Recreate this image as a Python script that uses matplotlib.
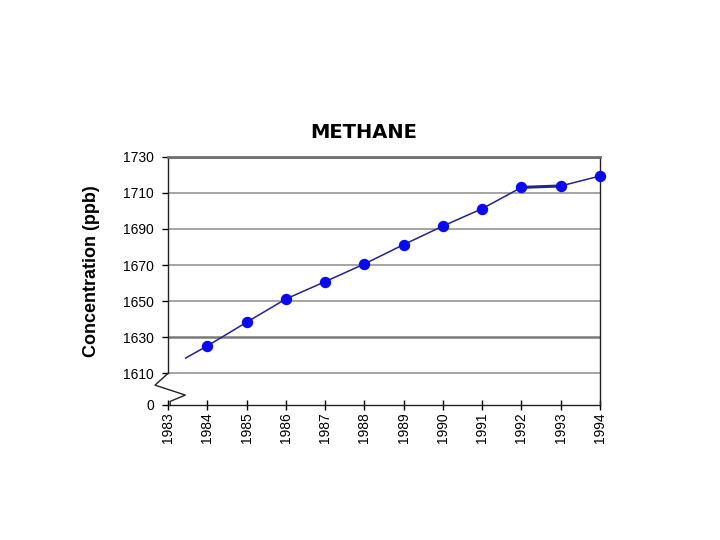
import matplotlib
matplotlib.use("Agg")
import matplotlib.pyplot as plt
from matplotlib.transforms import blended_transform_factory

# ---- data ----
years = [1984, 1985, 1986, 1987, 1988, 1989, 1990, 1991, 1992, 1993, 1994]
methane = [1625.2, 1638.3, 1651.2, 1660.8, 1670.6, 1681.3, 1691.6, 1701.2, 1713.0, 1713.8, 1719.3]
line_start_year = 1983.45
line_start_value = 1618.5
x_ticks = list(range(1983, 1995))
y_ticks = [1610, 1630, 1650, 1670, 1690, 1710, 1730]
zero_pos = 1592.5   # where the broken axis "0" sits
title = "METHANE"
ylabel = "Concentration (ppb)"

plt.rcParams['font.family'] = ['Liberation Sans', 'DejaVu Sans']

fig = plt.figure(figsize=(7.2, 5.4), dpi=100)
ax = fig.add_axes([168/720, 1 - 405/540, (600 - 168)/720, (405 - 156.7)/540])

# gridlines
for v in y_ticks:
    lw = 1.8 if v in (1630, 1730) else 1.1
    col = '#7a7a7a' if v in (1630, 1730) else '#8c8c8c'
    ax.axhline(v, color=col, lw=lw, zorder=1)

# line + markers
ax.plot([line_start_year] + years, [line_start_value] + methane,
        color='#23238c', lw=1.1, zorder=3, clip_on=False)
ax.plot(years[8:10], methane[8:10], color='#23238c', lw=2.2, zorder=3)
ax.plot(years, methane, ls='none', marker='o', ms=7.2, color='#0a0af0',
        mec='#0a0af0', zorder=4, clip_on=False)

ax.set_xlim(1983, 1994)
ax.set_ylim(zero_pos, 1730)

ax.set_xticks(x_ticks)
ax.set_xticklabels([str(y) for y in x_ticks], rotation=90, fontsize=10)
ax.set_yticks([zero_pos] + y_ticks)
ax.set_yticklabels(['0'] + [str(v) for v in y_ticks], fontsize=10)
ax.tick_params(axis='x', direction='inout', length=7, width=1, pad=2, colors='black')
ax.tick_params(axis='y', direction='out', length=4, width=1, pad=6, colors='black')

for s in ['left', 'bottom', 'right']:
    ax.spines[s].set_color('#222222')
    ax.spines[s].set_linewidth(1.0)
ax.spines['top'].set_color('#707070')
ax.spines['top'].set_linewidth(2.0)
ax.spines['left'].set_bounds(1610, 1730)

# zigzag axis break on the left
tr = blended_transform_factory(ax.transAxes, ax.transData)
zx = [0.0, -0.03, 0.04, 0.005, 0.005]
zy = [1610, 1603.5, 1598, 1594.5, zero_pos]
ax.plot(zx, zy, color='#222222', lw=1.0, transform=tr, clip_on=False)

fig.text(363.5/720, 1 - 132/540, title, ha='center', va='center',
         fontsize=14, fontweight='bold', family='DejaVu Sans')
fig.text(91/720, 1 - 271/540, ylabel, ha='center', va='center', rotation=90,
         fontsize=13, fontweight='bold')

fig.savefig('out.png', dpi=100, facecolor='white')
